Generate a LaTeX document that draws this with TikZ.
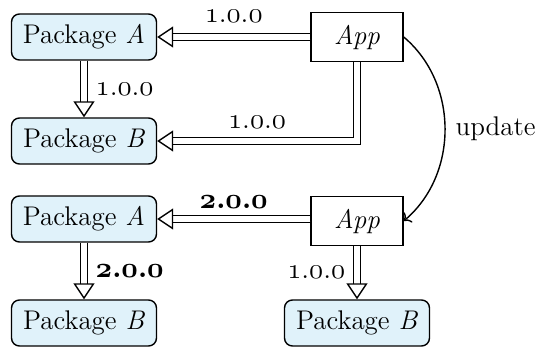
\documentclass[tikz,border=0pt]{standalone}
\usetikzlibrary{arrows.meta}
\definecolor{pkgblue}{RGB}{224,242,250}
\newcommand{\ver}[1]{$\mathnormal{#1}$}
\newcommand{\bver}[1]{{\boldmath$\mathnormal{#1}$}}
\begin{document}
\begin{tikzpicture}[x=0.5pt,y=-0.5pt,
  font=\fontsize{13.5}{16}\selectfont,
  pkg/.style={draw, line width=0.7pt, rounded corners=4pt, fill=pkgblue,
    minimum width=72.5pt, minimum height=23pt, inner sep=0pt},
  app/.style={draw, line width=0.7pt, fill=white,
    minimum width=46pt, minimum height=24.5pt, inner sep=0pt},
  dep/.style={double, line width=0.7pt, double distance=2.8pt,
    -{Triangle[open, length=8pt, width=10.5pt, line width=0.7pt]}},
  lbl/.style={inner sep=5.5pt},
]
\useasboundingbox (0,0) rectangle (542,352);
\node[pkg] (A1) at (84,37) {Package \textit{A}};
\node[pkg] (B1) at (84,141) {Package \textit{B}};
\node[app] (P1) at (357,37) {\textit{App}};
\node[pkg] (A2) at (84,219) {Package \textit{A}};
\node[app] (P2) at (357,221) {\textit{App}};
\node[pkg] (B2) at (84,323) {Package \textit{B}};
\node[pkg] (B3) at (357,323) {Package \textit{B}};

\draw[dep] (P1) -- node[lbl, above=1.5pt] {\ver{1.0.0}} (A1);
\draw[dep] (P1.south) |- node[lbl, above=0.5pt, pos=0.75] {\ver{1.0.0}} (B1);
\draw[dep] (A1) -- node[lbl, right] {\ver{1.0.0}} (B1);

\draw[dep] (P2.west |- A2.east) -- node[lbl, above=-0.5pt] {\bver{2.0.0}} (A2);
\draw[dep] (A2) -- node[lbl, right] {\bver{2.0.0}} (B2);
\draw[dep] (P2) -- node[lbl, left] {\ver{1.0.0}} (B3);

\draw[line width=0.7pt, ->] (P1.east) to[bend left=50] node[right, inner sep=5pt] {update} (P2.east);
\end{tikzpicture}
\end{document}
